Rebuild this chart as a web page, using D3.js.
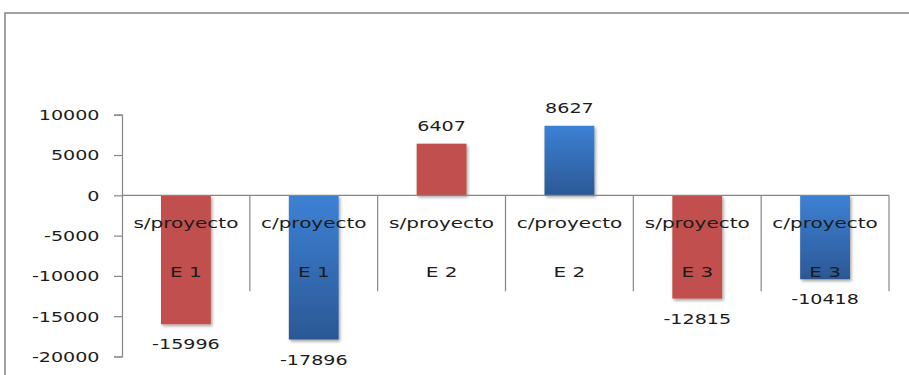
<!DOCTYPE html>
<html>
<head>
<meta charset="utf-8">
<script src="https://cdn.jsdelivr.net/npm/d3@7"></script>
<style>
  html, body { margin: 0; padding: 0; background: #fff; }
  svg { display: block; }
  text { font-family: "DejaVu Sans", sans-serif; fill: #1c1c1c; }
</style>
</head>
<body>
<svg id="chart" width="909" height="375"></svg>
<script>
// Chart data
const scenarios = ["s/proyecto", "c/proyecto", "s/proyecto", "c/proyecto", "s/proyecto", "c/proyecto"];
const stages = ["E 1", "E 1", "E 2", "E 2", "E 3", "E 3"];
const values = [-15996, -17896, 6407, 8627, -12815, -10418];
const seriesKind = ["sin", "con", "sin", "con", "sin", "con"];
const yTicks = [10000, 5000, 0, -5000, -10000, -15000, -20000];

const svg = d3.select("#chart");
const W = 909, H = 375;
const FS = 14.7;      // font size
const SX = 1.3;       // horizontal text stretch
const SXC = 1.36;     // stretch for category labels

// Outer frame
svg.append("rect")
  .attr("x", 5).attr("y", 13)
  .attr("width", W + 20).attr("height", H + 20)
  .attr("fill", "none").attr("stroke", "#8a8a8a").attr("stroke-width", 1.6);

const defs = svg.append("defs");
const blue = defs.append("linearGradient").attr("id", "blueGrad")
  .attr("x1", 0).attr("y1", 0).attr("x2", 0).attr("y2", 1);
blue.append("stop").attr("offset", "0%").attr("stop-color", "#3d81d4");
blue.append("stop").attr("offset", "100%").attr("stop-color", "#2b5895");

const shadow = defs.append("filter").attr("id", "shadow")
  .attr("x", "-20%").attr("y", "-10%").attr("width", "150%").attr("height", "130%");
shadow.append("feDropShadow").attr("dx", 1.5).attr("dy", 2).attr("stdDeviation", 1.4)
  .attr("flood-color", "#000").attr("flood-opacity", 0.35);

const fills = { sin: "#c0504d", con: "url(#blueGrad)" };

// Scales
const y = d3.scaleLinear().domain([-20000, 10000]).range([356.5, 114.7]);
const x = d3.scaleBand().domain(d3.range(values.length)).range([122, 889]).padding(0);
const barW = x.bandwidth() * 0.39;
const y0 = y(0);

// Stretched text helper
function label(g, tx, ty, str, anchor, sx) {
  g.append("text")
    .attr("transform", `translate(${tx},${ty}) scale(${sx || SX},1)`)
    .attr("text-anchor", anchor)
    .attr("font-size", FS)
    .text(str);
}

// Y axis
const yAxis = d3.axisLeft(y).tickValues(yTicks).tickSize(8).tickFormat("");
const yg = svg.append("g").attr("transform", "translate(122,0)").call(yAxis);
yg.selectAll("path, line").attr("stroke", "#868686").attr("stroke-width", 1.2);
const ylab = svg.append("g");
yTicks.forEach(t => label(ylab, 99.5, y(t) + 5.3, String(t), "end"));

// Bars
svg.append("g").selectAll("rect")
  .data(values)
  .join("rect")
  .attr("x", (d, i) => x(i) + (x.bandwidth() - barW) / 2)
  .attr("y", d => Math.min(y(d), y0))
  .attr("width", barW)
  .attr("height", d => Math.abs(y(d) - y0))
  .attr("fill", (d, i) => fills[seriesKind[i]])
  .attr("filter", "url(#shadow)");

// Category axis at zero with band separators
const xg = svg.append("g");
xg.append("line")
  .attr("x1", x.range()[0]).attr("x2", x.range()[1])
  .attr("y1", y0).attr("y2", y0)
  .attr("stroke", "#868686").attr("stroke-width", 1.2);
xg.selectAll("line.sep")
  .data(d3.range(1, values.length + 1))
  .join("line")
  .attr("class", "sep")
  .attr("x1", i => i < values.length ? x(i) : x.range()[1])
  .attr("x2", i => i < values.length ? x(i) : x.range()[1])
  .attr("y1", y0).attr("y2", y0 + 96)
  .attr("stroke", "#868686").attr("stroke-width", 1.2);

// Category labels (two lines)
const cl = svg.append("g");
values.forEach((d, i) => {
  const cx = x(i) + x.bandwidth() / 2;
  label(cl, cx, 228.3, scenarios[i], "middle", SXC);
  label(cl, cx, 277, stages[i], "middle", SXC);
});

// Value labels
const vl = svg.append("g");
values.forEach((d, i) => {
  const cx = x(i) + x.bandwidth() / 2;
  const ty = d >= 0 ? y(d) - 12.3 : y(d) + 25;
  label(vl, cx, ty, String(d), "middle");
});
</script>
</body>
</html>
